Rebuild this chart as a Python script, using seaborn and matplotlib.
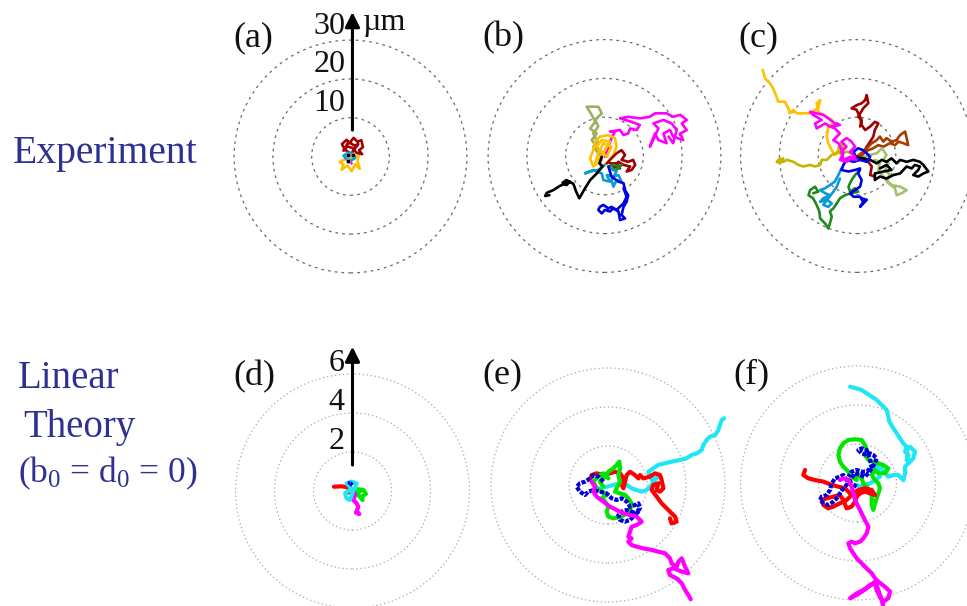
import matplotlib
matplotlib.use("Agg")
import matplotlib.pyplot as plt
from matplotlib.patches import Circle
import seaborn as sns
import pandas as pd

sns.set_style("white")
plt.rcParams['font.family'] = ['Liberation Serif', 'DejaVu Serif']
plt.rcParams['mathtext.fontset'] = 'custom'
plt.rcParams['mathtext.rm'] = 'Liberation Serif'
plt.rcParams['mathtext.it'] = 'Liberation Serif:italic'

# ---------------- data (top row in micrometres, bottom row in model units) ----
exp_rings = [10, 20, 30]
exp_ring_labels = ["10", "20", "30"]
lin_rings = [2, 4, 6]
lin_ring_labels = ["2", "4", "6"]
row_titles = ["Experiment", "Linear", "Theory", "(b$_0$ = d$_0$ = 0)"]
panel_letters = ["(a)", "(b)", "(c)", "(d)", "(e)", "(f)"]

# panel (a)
a_darkred = [(0, 0.8), (-1.5, 1.8), (-2.2, 3.2), (-1.0, 4.3), (-0.3, 3.4), (0.8, 4.8), (1.8, 3.8),
             (2.8, 4.2), (3.2, 2.4), (2.2, 1.6), (3.0, 0.6), (1.5, 1.0), (0.5, 2.2), (-0.8, 2.6),
             (-1.8, 1.5), (-0.5, 3.8), (1.0, 2.8), (2.0, 3.2), (0.5, 1.2)]
a_yellow = [(0.2, -0.2), (-1.2, -0.6), (-2.8, -1.4), (-1.8, -2.0), (-2.3, -3.4), (-0.8, -2.3),
            (0.3, -3.8), (1.2, -2.0), (2.4, -3.2), (1.8, -1.2), (2.2, 0.6), (0.8, -0.5),
            (-0.5, -1.2), (-1.5, 0.2), (0.5, 0.4)]
a_lightblue = [(-1.8, 0.2), (-0.5, 1.0), (0.8, 0.6), (1.2, -0.4), (0.2, -1.0), (-1.0, -0.8),
               (-1.6, 0.0), (0.0, 0.2), (0.9, 0.0)]
a_magenta = [(-0.1, -1.4), (0.3, -1.8)]
a_black_pts = [(-0.6, 0.4), (0.7, 0.4), (-0.6, -1.2)]

# panel (b)
b_olive = [(-0.7, -0.6), (-2.0, 2.4), (-3.3, 4.1), (-2.0, 5.8), (-3.7, 7.1), (-2.4, 8.8), (-3.3, 10.6),
           (-4.6, 12.7), (-1.6, 12.7), (-0.7, 11.0), (-2.4, 9.3), (-1.6, 7.6), (-2.9, 5.8), (-1.8, 3.7),
           (-2.9, 2.4), (-1.3, 0.3)]
b_magenta = [(0.1, -0.2), (1.0, 2.4), (1.8, 4.6), (2.7, 6.3), (1.4, 6.3), (4.0, 6.7), (4.9, 5.4),
             (6.1, 5.8), (6.6, 7.1), (8.3, 6.7), (9.1, 8.0), (7.0, 8.8), (4.0, 9.7), (6.1, 10.1),
             (9.1, 9.7), (11.7, 10.1), (13.0, 11.0), (16.0, 11.0), (17.7, 10.1), (19.5, 10.6),
             (21.2, 9.3), (19.9, 8.4), (21.2, 6.7), (19.5, 5.8), (20.3, 4.1), (17.7, 5.0), (16.9, 6.7),
             (15.2, 5.8), (16.0, 3.3), (13.9, 4.1), (13.0, 5.8), (11.7, 2.4), (13.9, 7.1), (12.6, 8.4),
             (15.2, 9.3), (17.3, 8.4), (18.6, 6.7), (17.7, 3.3), (16.5, 5.0)]
b_yellow = [(-0.7, -1.0), (-2.9, -2.7), (-3.7, -0.6), (-2.9, 1.5), (-2.4, 3.7), (-1.2, 5.0), (1.0, 5.4),
            (2.7, 4.6), (3.1, 2.4), (2.3, 0.3), (1.0, -1.5), (-0.7, -2.7), (-1.6, -1.0), (0.1, 1.5),
            (1.4, 3.7), (-0.7, 4.1), (-2.0, 2.4), (0.6, -0.2), (1.8, 2.4), (-0.3, 3.3), (-1.6, 0.7),
            (-2.4, -1.9)]
b_darkred = [(0.6, -1.9), (1.8, -0.6), (3.1, 0.7), (4.4, 1.5), (5.3, 0.3), (4.4, -1.0), (6.1, -1.5),
             (7.4, -1.0), (7.9, -2.3), (7.0, -3.6), (5.7, -4.0), (6.6, -2.7), (4.9, -2.3), (3.6, -1.5),
             (2.3, -2.7), (4.0, -3.2), (3.1, -1.9), (1.4, -1.9)]
b_green = [(1.0, -2.7), (2.3, -2.3), (3.6, -2.7), (4.4, -2.3), (3.1, -3.6), (1.8, -3.2)]
b_lightblue = [(0.1, -2.3), (-1.6, -3.6), (-3.7, -4.0), (-5.0, -4.5), (-2.9, -3.6), (-0.7, -4.5),
               (-0.3, -6.2), (1.4, -6.6), (0.6, -4.9), (2.3, -5.3), (3.6, -4.9), (4.4, -6.6),
               (3.1, -6.2), (2.3, -7.9), (1.8, -6.2), (3.1, -4.0), (1.4, -3.2)]
b_blue = [(1.0, -2.7), (1.8, -5.3), (3.6, -6.6), (4.9, -7.0), (5.3, -8.8), (6.1, -10.1), (5.7, -11.8),
          (4.9, -13.1), (4.4, -15.2), (5.3, -16.1), (4.0, -16.5), (3.6, -14.3), (2.3, -13.5),
          (1.4, -14.3), (0.1, -13.9), (-0.7, -14.8), (-1.6, -13.9), (-1.2, -13.1), (-0.3, -12.6),
          (1.0, -13.5), (1.8, -13.1), (3.1, -13.9), (4.9, -12.2), (5.7, -10.5), (4.9, -8.3)]
b_black = [(-0.7, -0.2), (-1.3, -1.9), (-0.5, -2.7), (-2.0, -4.5), (-3.7, -6.2), (-5.0, -8.3),
           (-6.5, -10.9), (-7.3, -9.2), (-8.0, -7.2), (-9.8, -6.2), (-10.8, -6.9), (-9.8, -7.5),
           (-8.9, -6.6), (-11.5, -7.7), (-13.2, -8.8), (-14.9, -9.5), (-15.3, -10.3), (-14.2, -10.1)]

# panel (c)
c_yellow = [(-24.3, 22.2), (-23.7, 20.0), (-22.4, 18.7), (-21.6, 17.4), (-21.1, 16.2), (-20.3, 14.0),
            (-18.6, 14.0), (-17.7, 12.3), (-17.3, 11.0), (-16.4, 11.9), (-15.5, 11.0), (-12.1, 11.0),
            (-10.8, 11.9), (-10.0, 12.3), (-9.5, 14.4), (-10.4, 13.6), (-10.0, 11.4), (-7.8, 10.1),
            (-6.5, 9.3), (-6.1, 8.4), (-7.4, 7.6), (-7.8, 5.0), (-7.4, 3.3), (-6.5, 1.5), (-5.7, 0.3),
            (-4.8, 1.5), (-4.0, 0.3)]
c_olive = [(-0.1, -0.2), (-1.4, 0.7), (-2.7, 1.1), (-4.4, 0.7), (-4.8, 2.0), (-4.0, 3.3), (-3.5, 2.0),
           (-5.2, 0.7), (-6.5, 0.3), (-7.8, -1.0), (-9.1, -1.0), (-9.5, -2.3), (-10.8, -2.7),
           (-12.1, -2.3), (-13.8, -2.7), (-15.1, -2.3), (-16.4, -1.5), (-18.1, -1.0), (-19.0, -1.5),
           (-19.8, -0.6), (-20.7, -1.5), (-19.8, -1.9), (-19.0, -0.6)]
c_darkred = [(4.6, -5.3), (3.4, -4.9), (3.8, -2.7), (2.5, -1.0), (0.8, -1.0), (1.6, 0.7), (2.5, 2.4),
             (3.4, 3.7), (4.2, 5.0), (4.6, 6.7), (5.5, 8.4), (4.6, 8.8), (3.4, 7.6), (2.1, 6.7),
             (1.2, 8.0), (0.8, 10.1), (0.3, 11.0), (-0.1, 11.9), (-1.4, 12.3), (-0.1, 13.1), (1.2, 13.6),
             (2.1, 14.4), (2.5, 15.7), (2.9, 13.6), (1.6, 12.3), (0.3, 10.1), (1.2, 9.3), (0.8, 7.6)]
c_brown = [(-0.1, -0.2), (1.6, 1.1), (2.5, 2.0), (3.8, 3.3), (5.1, 4.1), (5.9, 5.0), (6.8, 3.7),
           (7.6, 4.6), (8.9, 3.7), (10.2, 4.1), (11.1, 5.4), (12.4, 6.3), (12.8, 4.6), (13.2, 2.8),
           (11.9, 3.3), (10.7, 3.7), (9.8, 2.8), (8.5, 3.3), (6.8, 2.4), (5.5, 2.8), (4.2, 2.0),
           (2.9, 1.5), (1.2, 0.3)]
c_lightolive = [(0.8, -0.6), (3.4, 0.3), (5.1, 0.7), (6.4, 2.0), (7.6, 0.3), (6.8, -1.0), (8.1, -1.9),
                (7.2, -3.6), (8.5, -4.9), (7.6, -6.2), (8.9, -7.5), (11.1, -7.9), (12.8, -8.8),
                (11.5, -9.6), (10.2, -10.1), (9.8, -8.3), (8.1, -7.0), (6.8, -5.3), (5.5, -3.6),
                (5.9, -1.5), (4.6, -1.0)]
c_black = [(-0.5, -0.2), (1.6, -0.6), (3.4, -1.0), (5.1, -1.9), (6.4, -1.0), (7.6, -1.5), (8.9, -0.6),
           (10.2, -1.9), (11.1, -1.0), (12.8, -1.5), (14.5, -1.0), (16.2, -1.5), (17.1, -2.3),
           (18.4, -4.0), (17.1, -4.5), (15.8, -5.3), (14.5, -4.9), (15.8, -3.6), (16.2, -2.7),
           (14.9, -2.3), (14.1, -3.2), (12.8, -2.7), (11.1, -4.5), (9.4, -4.9), (7.6, -5.8),
           (5.9, -5.3), (4.6, -6.2), (4.6, -4.5), (6.8, -4.0), (8.9, -3.6), (7.6, -2.3), (5.9, -3.2)]
c_lightblue = [(-4.0, -3.2), (-4.8, -4.9), (-5.7, -6.6), (-7.0, -7.5), (-8.2, -8.3), (-9.5, -8.8),
               (-8.2, -9.6), (-7.0, -10.1), (-8.7, -10.9), (-9.5, -11.8), (-7.8, -11.3), (-6.5, -12.2),
               (-7.4, -13.1), (-8.7, -12.6), (-7.4, -10.9), (-6.1, -9.2), (-5.2, -7.9), (-4.4, -5.8)]
c_green = [(0.8, -3.6), (-0.5, -4.9), (-1.4, -6.2), (-2.2, -7.9), (-1.8, -9.2), (-0.5, -8.3), (0.3, -9.2),
           (-1.4, -9.6), (-3.1, -10.1), (-4.4, -10.9), (-5.2, -12.2), (-6.1, -13.5), (-7.0, -14.3),
           (-6.5, -15.6), (-7.0, -17.4), (-7.4, -18.7), (-8.2, -17.4), (-9.5, -16.1), (-9.7, -14.3),
           (-10.4, -12.6), (-11.3, -10.9), (-12.5, -10.1), (-12.1, -8.8), (-10.8, -7.9), (-10.0, -9.2),
           (-11.3, -9.6)]
c_blue = [(-0.1, -0.6), (-0.9, 1.1), (0.3, 2.0), (1.6, 1.5), (2.5, 0.7), (3.4, -0.2), (2.5, -1.5),
          (0.8, -1.0), (-0.9, -1.5), (-2.7, -1.0), (-3.5, -2.3), (-4.0, -3.6), (-2.2, -4.0), (-0.5, -3.6),
          (0.8, -3.2), (0.3, -4.5), (1.2, -6.2), (0.8, -7.9), (-0.5, -8.8), (-1.8, -9.6), (-0.9, -10.5),
          (0.8, -10.5), (1.6, -11.8), (0.8, -13.1), (2.5, -11.3), (1.2, -10.9)]
c_magenta = [(-0.1, -1.0), (-1.8, -0.2), (-3.5, -1.0), (-4.0, 1.1), (-2.7, 2.4), (-4.0, 3.7), (-2.7, 4.6),
             (-1.4, 3.7), (-0.5, 2.4), (-1.8, 1.1), (-0.5, -0.2), (-2.7, -1.5), (-4.4, -1.0), (-3.5, 0.7),
             (-4.8, 3.3), (-6.1, 4.1), (-4.4, 5.8), (-5.7, 7.1), (-7.0, 7.6), (-8.2, 8.4), (-10.4, 7.1),
             (-10.8, 8.4), (-9.1, 9.3), (-11.3, 10.6), (-12.1, 11.4), (-10.4, 11.0), (-8.7, 10.6),
             (-7.4, 9.7), (-5.7, 8.4), (-4.4, 8.0), (-6.5, 7.6)]

# panel (d)
d_red = [(-0.95, 0.22), (-0.6, 0.24), (-0.25, 0.2), (-0.18, 0.05), (-0.2, -0.08)]
d_cyan = [(-0.13, 0.22), (-0.3, 0.39), (-0.04, 0.48), (0.21, 0.39), (0.13, 0.14), (-0.13, 0.05),
          (-0.38, -0.12), (-0.3, -0.38), (-0.13, -0.46), (-0.04, -0.21), (0.04, 0.05)]
d_blue = [(0.0, 0.3), (-0.15, 0.42), (-0.05, 0.45)]
d_green = [(0.04, -0.03), (0.3, 0.09), (0.56, 0.05), (0.69, -0.15), (0.47, -0.29), (0.52, -0.46),
           (0.3, -0.21), (0.13, -0.12), (0.38, -0.03)]
d_magenta = [(0.01, 0.05), (0.13, -0.21), (0.04, -0.46), (0.21, -0.63), (0.3, -0.8), (0.21, -1.06),
             (0.35, -1.18), (0.18, -1.11)]

# panel (e)
e_cyan = [(-0.75, -0.26), (-0.41, -0.17), (-0.07, -0.09), (0.27, 0.0), (0.62, 0.09), (0.96, 0.0),
          (1.21, -0.17), (1.47, -0.26), (1.73, -0.34), (1.98, -0.26), (2.24, 0.0), (2.41, 0.34),
          (2.58, 0.43), (2.32, 0.17), (2.15, 0.43), (2.07, 0.68), (2.32, 0.85), (2.58, 1.03),
          (2.92, 1.11), (3.26, 1.2), (3.69, 1.28), (4.03, 1.37), (4.29, 1.54), (4.55, 1.62),
          (4.8, 1.79), (4.89, 2.05), (5.06, 2.31), (5.23, 2.48), (5.49, 2.56), (5.66, 2.82),
          (5.74, 3.08), (5.83, 3.33), (5.95, 3.42)]
e_red = [(-0.92, 0.26), (-0.84, 0.51), (-0.58, 0.6), (-0.24, 0.51), (0.1, 0.6), (0.36, 0.68), (0.62, 0.6),
         (0.79, 0.34), (0.7, 0.0), (0.79, -0.17), (0.87, 0.17), (0.96, 0.51), (1.13, 0.68), (1.38, 0.51),
         (1.56, 0.34), (1.64, 0.51), (1.81, 0.34), (2.15, 0.43), (2.41, 0.6), (2.67, 0.51), (2.75, 0.26),
         (2.84, -0.17), (2.67, -0.34), (2.5, -0.26), (2.58, 0.09), (2.32, 0.0), (2.24, -0.26),
         (2.5, -0.6), (2.75, -0.94), (3.01, -1.2), (3.26, -1.45), (3.44, -1.62), (3.52, -1.88),
         (3.26, -1.97), (3.18, -1.71)]
e_green = [(-0.24, -0.09), (-0.41, 0.17), (-0.15, 0.43), (0.02, 0.68), (0.27, 0.85), (0.44, 1.03),
           (0.58, 1.2), (0.62, 0.85), (0.53, 0.51), (0.62, 0.17), (0.44, -0.17), (0.36, -0.34),
           (0.62, -0.43), (0.87, -0.51), (1.04, -0.68), (1.21, -0.94), (1.13, -1.28), (0.96, -1.45),
           (0.7, -1.62), (0.27, -1.71), (0.02, -1.62), (-0.07, -1.37), (0.02, -1.11), (-0.15, -0.85),
           (-0.32, -0.68), (-0.07, -0.51), (-0.32, -0.34), (-0.58, -0.17), (-0.75, 0.17), (-0.5, 0.43),
           (-0.24, 0.6), (0.02, 0.34)]
e_blue = [(-0.24, 0.17), (-0.5, 0.43), (-0.75, 0.51), (-0.92, 0.34), (-1.18, 0.17), (-1.44, 0.09),
          (-1.61, -0.09), (-1.44, -0.34), (-1.18, -0.51), (-1.01, -0.34), (-0.75, -0.26), (-0.41, -0.34),
          (-0.07, -0.43), (0.19, -0.68), (0.44, -0.77), (0.7, -0.68), (0.96, -0.85), (1.13, -1.11),
          (1.38, -1.03), (1.56, -0.94), (1.64, -1.2), (1.47, -1.37), (1.3, -1.62), (1.13, -1.79),
          (0.87, -1.88), (0.62, -1.79), (0.53, -1.54), (0.7, -1.37), (0.96, -1.28), (1.21, -1.37),
          (1.47, -1.45), (1.64, -1.28)]
e_magenta = [(-0.84, 0.17), (-0.67, -0.09), (-0.75, -0.34), (-0.58, -0.6), (-0.24, -0.85), (0.1, -1.11),
             (0.44, -1.28), (0.79, -1.45), (1.13, -1.54), (1.47, -1.62), (1.73, -1.88), (1.47, -2.05),
             (1.21, -2.14), (1.13, -2.39), (1.04, -2.65), (1.21, -2.74), (1.04, -2.91), (1.21, -3.08),
             (1.47, -3.16), (1.81, -3.25), (2.24, -3.33), (2.58, -3.42), (2.92, -3.5), (3.18, -3.76),
             (3.26, -4.02), (3.52, -4.19), (3.61, -3.93), (3.78, -3.76), (3.95, -4.19), (4.12, -4.53),
             (3.78, -4.44), (3.35, -4.27), (3.09, -4.36), (3.18, -4.62), (3.52, -4.79), (3.78, -5.04),
             (3.95, -5.38), (4.12, -5.64), (4.24, -5.86)]

# panel (f)
f_cyan = [(-0.38, 4.94), (-0.04, 4.85), (0.21, 4.77), (0.47, 4.6), (0.73, 4.43), (0.98, 4.26), (1.24, 4.0),
          (1.5, 3.74), (1.58, 3.4), (1.63, 3.15), (1.84, 2.8), (2.01, 2.55), (2.18, 2.29), (2.35, 2.03),
          (2.52, 1.86), (2.44, 1.61), (2.61, 1.44), (2.52, 1.18), (2.69, 1.09), (2.86, 1.26), (2.95, 1.61),
          (2.69, 1.86), (2.52, 1.69), (2.61, 1.01), (2.44, 0.84), (2.44, 0.5), (2.35, 0.15), (2.09, 0.41),
          (1.84, 0.41), (1.58, 0.32), (1.41, 0.5), (1.24, 0.75), (0.98, 0.84), (1.07, 0.58), (1.15, 0.32),
          (0.9, 0.15), (0.64, -0.02), (0.38, -0.1), (0.13, -0.19), (-0.04, -0.1)]
f_green = [(-0.04, 0.15), (-0.3, 0.32), (-0.47, 0.58), (-0.73, 0.84), (-0.9, 1.09), (-0.98, 1.44),
           (-0.9, 1.78), (-0.73, 2.03), (-0.47, 2.21), (-0.13, 2.24), (0.21, 2.21), (0.38, 1.95),
           (0.47, 1.69), (0.38, 1.44), (0.56, 1.18), (0.81, 1.09), (1.07, 1.01), (1.32, 0.92), (1.58, 0.75),
           (1.41, 0.5), (1.07, 0.5), (0.9, 0.67), (0.73, 0.41), (0.9, 0.15), (1.07, -0.02), (1.15, -0.27),
           (1.07, -0.53), (0.98, -0.79), (0.9, -1.04), (0.81, -1.38), (0.73, -1.13), (0.73, -0.7),
           (0.64, -0.44), (0.47, -0.19), (0.3, -0.02), (0.21, 0.24), (0.04, 0.41), (-0.13, 0.24)]
f_blue = [(-0.04, -0.19), (-0.3, -0.02), (-0.56, 0.15), (-0.73, 0.41), (-0.9, 0.32), (-1.15, 0.24),
          (-1.32, -0.02), (-1.41, -0.36), (-1.58, -0.62), (-1.84, -0.7), (-1.92, -0.87), (-1.75, -1.04),
          (-1.5, -1.13), (-1.24, -0.96), (-1.07, -0.79), (-0.9, -0.53), (-0.73, -0.27), (-0.56, -0.1),
          (-0.38, 0.15), (-0.13, 0.5), (0.13, 0.41), (0.38, 0.32), (0.56, 0.5), (0.73, 0.75), (0.9, 1.01),
          (0.98, 1.26), (0.81, 1.44), (0.64, 1.52), (0.47, 1.44), (0.21, 1.52), (0.04, 1.69), (0.21, 1.78),
          (0.47, 1.69), (0.56, 1.44), (0.64, 1.18), (0.73, 0.84), (0.47, 0.58), (0.21, 0.58),
          (-0.04, 0.67), (-0.3, 0.58), (-0.47, 0.32)]
f_red = [(-2.69, 0.67), (-2.78, 0.41), (-2.52, 0.24), (-2.18, 0.15), (-1.75, 0.07), (-1.32, -0.1),
         (-0.98, -0.19), (-0.64, -0.27), (-0.47, -0.44), (-0.3, -0.62), (-0.56, -0.87), (-0.9, -1.04),
         (-1.24, -1.21), (-1.5, -1.3), (-1.75, -1.13), (-1.84, -0.87), (-1.58, -0.79), (-1.24, -0.7),
         (-0.9, -0.62), (-0.73, -0.87), (-0.56, -1.3), (-0.3, -1.21), (-0.13, -0.96), (-0.04, -0.7),
         (0.13, -0.53), (0.38, -0.44), (0.64, -0.53), (0.9, -0.62), (0.73, -0.36), (0.38, -0.27),
         (0.04, -0.36), (-0.21, -0.53)]
f_magenta = [(-0.9, 0.15), (-0.73, 0.24), (-0.47, 0.15), (-0.3, -0.19), (-0.21, -0.53), (-0.13, -0.87),
             (0.04, -1.21), (0.21, -1.56), (0.38, -1.9), (0.56, -2.24), (0.47, -2.58), (0.3, -2.84),
             (0.13, -3.01), (-0.13, -3.09), (-0.3, -3.01), (-0.47, -3.09), (-0.38, -3.35), (-0.21, -3.61),
             (-0.04, -3.86), (0.21, -4.12), (0.47, -4.38), (0.73, -4.63), (0.9, -4.89), (1.07, -5.06),
             (1.41, -5.32), (1.67, -5.57), (1.58, -5.91), (1.32, -6.09), (1.15, -5.83), (0.98, -5.49),
             (0.9, -5.15), (0.64, -5.23), (0.3, -5.49), (-0.04, -5.66), (-0.38, -5.91), (-0.04, -5.74),
             (0.47, -5.4), (0.9, -5.06), (1.07, -5.49), (1.24, -6.0), (1.32, -6.34)]

# ---------------- colours ----------------
C = dict(yellow='#ffc000', darkred='#a00000', lightblue='#0a9ad6', magenta='#ff00ff', olive='#9bb15f',
         blue='#0000e6', black='#000000', green='#1f8a1f', brown='#a83c00', oliveyel='#c2b600',
         lightolive='#a3c06c', red='#ff0000', cyan='#1ee6f5', lgreen='#00e600', lblue='#0000dd',
         lmag='#ff00ff')
TEXT_BLUE = '#2e3192'

panels = {
    'a': [(a_yellow, 'yellow'), (a_darkred, 'darkred'), (a_lightblue, 'lightblue'), (a_magenta, 'magenta')],
    'b': [(b_olive, 'olive'), (b_magenta, 'magenta'), (b_yellow, 'yellow'), (b_darkred, 'darkred'),
          (b_green, 'green'), (b_lightblue, 'lightblue'), (b_blue, 'blue'), (b_black, 'black')],
    'c': [(c_yellow, 'yellow'), (c_olive, 'oliveyel'), (c_darkred, 'darkred'), (c_brown, 'brown'),
          (c_lightolive, 'lightolive'), (c_black, 'black'), (c_lightblue, 'lightblue'), (c_green, 'green'),
          (c_blue, 'blue'), (c_magenta, 'magenta')],
    'd': [(d_red, 'red'), (d_green, 'lgreen'), (d_magenta, 'lmag'), (d_cyan, 'cyan'), (d_blue, 'lblue')],
    'e': [(e_cyan, 'cyan'), (e_red, 'red'), (e_green, 'lgreen'), (e_blue, 'lblue'), (e_magenta, 'lmag')],
    'f': [(f_cyan, 'cyan'), (f_green, 'lgreen'), (f_red, 'red'), (f_blue, 'lblue'), (f_magenta, 'lmag')],
}

# ---------------- layout (pixels) ----------------
W, H = 967, 606
fig = plt.figure(figsize=(W / 100, H / 100), dpi=100)
fig.patch.set_facecolor('white')

TOP_SCALE = 3.88   # px per micrometre
BOT_SCALE = 19.5   # px per unit
centers = {'a': (350.5, 156.5), 'b': (604.5, 156), 'c': (857, 156),
           'd': (352.5, 491), 'e': (608, 485), 'f': (857.5, 483)}
HALF = 126


def make_axes(key, scale):
    cx, cy = centers[key]
    L = HALF / scale
    ax = fig.add_axes([(cx - HALF) / W, 1 - (cy + HALF) / H, 2 * HALF / W, 2 * HALF / H])
    ax.set_xlim(-L, L)
    ax.set_ylim(-L, L)
    ax.axis('off')
    return ax


def draw_tracks(ax, tracks, lw, dotted_blue=False):
    for pts, cname in tracks:
        df = pd.DataFrame(pts, columns=['x', 'y'])
        ls = '-'
        if dotted_blue and cname == 'lblue':
            ls = (0, (1.0, 0.35))
        sns.lineplot(data=df, x='x', y='y', sort=False, estimator=None, color=C[cname],
                     lw=lw, ls=ls, ax=ax, legend=False)
    for ln in ax.lines:
        ln.set_clip_on(False)
        ln.set_solid_joinstyle('round')
        ln.set_solid_capstyle('round')


for key in ['a', 'b', 'c']:
    ax = make_axes(key, TOP_SCALE)
    for r in exp_rings:
        ax.add_patch(Circle((0, 0), r, fill=False, ec='#6a6a6a', lw=0.9, ls=(0, (2.2, 3.2)),
                            clip_on=False, zorder=0))
    draw_tracks(ax, panels[key], 1.9)
    if key == 'a':
        bp = pd.DataFrame(a_black_pts, columns=['x', 'y'])
        sns.scatterplot(data=bp, x='x', y='y', color='black', s=10, ax=ax, legend=False, zorder=5)
        ax.annotate('', xy=(0.5, 37.2), xytext=(0.5, 6.8),
                    arrowprops=dict(arrowstyle='-|>', lw=2.2, color='black', mutation_scale=22,
                                    shrinkA=0, shrinkB=0), annotation_clip=False)
        for r, lab in zip(exp_rings, exp_ring_labels):
            ax.text(-1.3, r + 3.6, lab, ha='right', va='center', fontsize=23, color='#111111')
        ax.text(3.3, 34.6, 'µm', ha='left', va='center', fontsize=23, color='#111111')

for key in ['d', 'e', 'f']:
    ax = make_axes(key, BOT_SCALE)
    for r in lin_rings:
        ax.add_patch(Circle((0, 0), r, fill=False, ec='#a8a8a8', lw=0.9, ls=(0, (1.0, 2.2)),
                            clip_on=False, zorder=0))
    draw_tracks(ax, panels[key], 3.0, dotted_blue=True)
    if key == 'd':
        ax.annotate('', xy=(0.0, 7.4), xytext=(0.0, 1.33),
                    arrowprops=dict(arrowstyle='-|>', lw=2.2, color='black', mutation_scale=22,
                                    shrinkA=0, shrinkB=0), annotation_clip=False)
        for r, lab in zip(lin_rings, lin_ring_labels):
            ax.text(-0.42, r + 0.55, lab, ha='right', va='center', fontsize=23, color='#111111')

# panel letters
letter_pos = [(233, 38), (482, 38), (738, 38), (233, 377), (482, 375), (733, 375)]
for lab, (px, py) in zip(panel_letters, letter_pos):
    fig.text(px / W, 1 - py / H, lab, ha='left', va='center', fontsize=26, color='#111111')

# row titles
title_pos = [(13, 163), (18, 388), (23, 437), (18, 482)]
title_sizes = [28.5, 28, 28, 25.5]
for lab, (px, py), fs in zip(row_titles, title_pos, title_sizes):
    fig.text(px / W, 1 - py / H, lab, ha='left', va='baseline', fontsize=fs, color=TEXT_BLUE)

fig.savefig('out.png', dpi=100, facecolor='white')
